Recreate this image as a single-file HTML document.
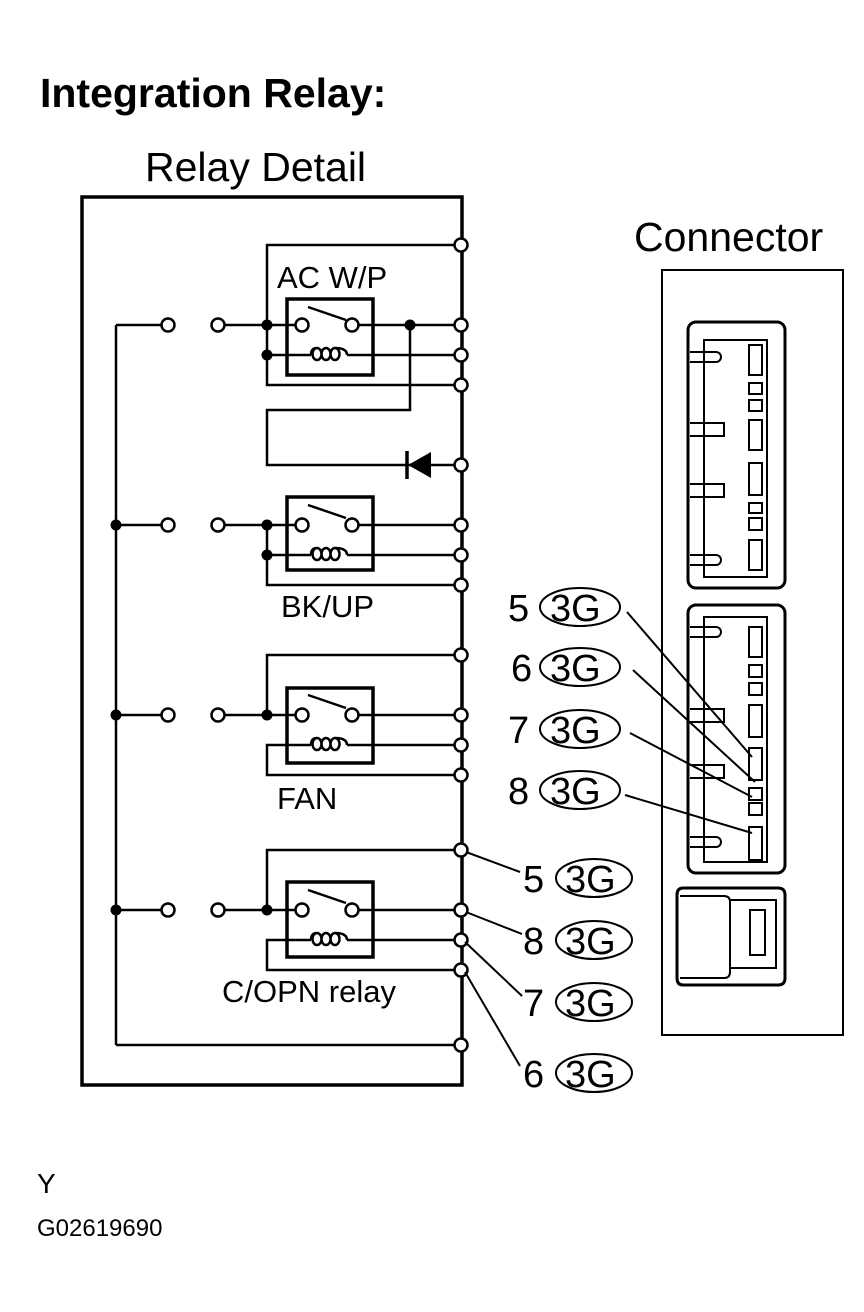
<!DOCTYPE html>
<html><head><meta charset="utf-8"><style>
html,body{margin:0;padding:0;background:#fff}
svg{display:block}
text{font-family:"Liberation Sans",Arial,sans-serif;fill:#000}
</style></head><body>
<svg width="864" height="1312" viewBox="0 0 864 1312" xmlns="http://www.w3.org/2000/svg">
<text x="40" y="107" font-size="41" font-weight="bold">Integration Relay:</text>
<text x="145" y="181" font-size="41">Relay Detail</text>
<text x="634" y="251" font-size="41">Connector</text>
<g stroke="#000" fill="none" stroke-width="2.5">
<rect x="82" y="197" width="380" height="888" stroke-width="3.5"/>
<line x1="116" y1="325" x2="116" y2="1045"/>
<line x1="116" y1="1045" x2="461" y2="1045"/>
<!-- AC W/P -->
<path d="M461 245H267V385H461"/>
<rect x="287" y="299" width="86" height="76" stroke-width="3.5"/>
<line x1="116" y1="325" x2="162" y2="325"/>
<line x1="224" y1="325" x2="296" y2="325"/>
<line x1="358" y1="325" x2="461" y2="325"/>
<line x1="308" y1="307" x2="346" y2="320"/>
<line x1="267" y1="355" x2="311" y2="355"/>
<line x1="347" y1="355" x2="461" y2="355"/>
<path d="M410 325V410H267V465H461"/>
<!-- BK/UP -->
<rect x="287" y="497" width="86" height="73" stroke-width="3.5"/>
<line x1="116" y1="525" x2="162" y2="525"/>
<line x1="224" y1="525" x2="296" y2="525"/>
<line x1="358" y1="525" x2="461" y2="525"/>
<line x1="308" y1="505" x2="346" y2="518"/>
<path d="M267 525V585H461"/>
<line x1="267" y1="555" x2="311" y2="555"/>
<line x1="347" y1="555" x2="461" y2="555"/>
<!-- FAN -->
<rect x="287" y="688" width="86" height="75" stroke-width="3.5"/>
<path d="M461 655H267V715"/>
<line x1="116" y1="715" x2="162" y2="715"/>
<line x1="224" y1="715" x2="296" y2="715"/>
<line x1="358" y1="715" x2="461" y2="715"/>
<line x1="308" y1="695" x2="346" y2="708"/>
<path d="M311 745H267V775H461"/>
<line x1="347" y1="745" x2="461" y2="745"/>
<!-- C/OPN -->
<rect x="287" y="882" width="86" height="75" stroke-width="3.5"/>
<path d="M461 850H267V910"/>
<line x1="116" y1="910" x2="162" y2="910"/>
<line x1="224" y1="910" x2="296" y2="910"/>
<line x1="358" y1="910" x2="461" y2="910"/>
<line x1="308" y1="890" x2="346" y2="903"/>
<path d="M311 940H267V970H461"/>
<line x1="347" y1="940" x2="461" y2="940"/>
</g>
<g stroke="#000" fill="none" stroke-width="2.5">
<path id="c1" d="M311 355 q0 -7 6 -7 m0 0 a4.5 6 0 1 1 0 12 a4.5 6 0 1 1 0 -12 m9 0 a4.5 6 0 1 1 0 12 a4.5 6 0 1 1 0 -12 m9 0 a4.5 6 0 1 1 0 12 a4.5 6 0 1 1 0 -12 q12 0 12 7"/>
<path d="M311 555 q0 -7 6 -7 m0 0 a4.5 6 0 1 1 0 12 a4.5 6 0 1 1 0 -12 m9 0 a4.5 6 0 1 1 0 12 a4.5 6 0 1 1 0 -12 m9 0 a4.5 6 0 1 1 0 12 a4.5 6 0 1 1 0 -12 q12 0 12 7"/>
<path d="M311 745 q0 -7 6 -7 m0 0 a4.5 6 0 1 1 0 12 a4.5 6 0 1 1 0 -12 m9 0 a4.5 6 0 1 1 0 12 a4.5 6 0 1 1 0 -12 m9 0 a4.5 6 0 1 1 0 12 a4.5 6 0 1 1 0 -12 q12 0 12 7"/>
<path d="M311 940 q0 -7 6 -7 m0 0 a4.5 6 0 1 1 0 12 a4.5 6 0 1 1 0 -12 m9 0 a4.5 6 0 1 1 0 12 a4.5 6 0 1 1 0 -12 m9 0 a4.5 6 0 1 1 0 12 a4.5 6 0 1 1 0 -12 q12 0 12 7"/>
</g>
<polygon points="408,465 431,452 431,478" fill="#000"/>
<line x1="407" y1="451" x2="407" y2="479" stroke="#000" stroke-width="3.5"/>
<g fill="#000">
<circle cx="267" cy="325" r="5.5"/><circle cx="267" cy="355" r="5.5"/><circle cx="410" cy="325" r="5.5"/>
<circle cx="116" cy="525" r="5.5"/><circle cx="267" cy="525" r="5.5"/><circle cx="267" cy="555" r="5.5"/>
<circle cx="116" cy="715" r="5.5"/><circle cx="267" cy="715" r="5.5"/>
<circle cx="116" cy="910" r="5.5"/><circle cx="267" cy="910" r="5.5"/>
</g>
<g fill="#fff" stroke="#000" stroke-width="2.5">
<circle cx="168" cy="325" r="6.5"/><circle cx="218" cy="325" r="6.5"/><circle cx="302" cy="325" r="6.5"/><circle cx="352" cy="325" r="6.5"/>
<circle cx="168" cy="525" r="6.5"/><circle cx="218" cy="525" r="6.5"/><circle cx="302" cy="525" r="6.5"/><circle cx="352" cy="525" r="6.5"/>
<circle cx="168" cy="715" r="6.5"/><circle cx="218" cy="715" r="6.5"/><circle cx="302" cy="715" r="6.5"/><circle cx="352" cy="715" r="6.5"/>
<circle cx="168" cy="910" r="6.5"/><circle cx="218" cy="910" r="6.5"/><circle cx="302" cy="910" r="6.5"/><circle cx="352" cy="910" r="6.5"/>
<circle cx="461" cy="245" r="6.5"/><circle cx="461" cy="325" r="6.5"/><circle cx="461" cy="355" r="6.5"/><circle cx="461" cy="385" r="6.5"/>
<circle cx="461" cy="465" r="6.5"/><circle cx="461" cy="525" r="6.5"/><circle cx="461" cy="555" r="6.5"/><circle cx="461" cy="585" r="6.5"/>
<circle cx="461" cy="655" r="6.5"/><circle cx="461" cy="715" r="6.5"/><circle cx="461" cy="745" r="6.5"/><circle cx="461" cy="775" r="6.5"/>
<circle cx="461" cy="850" r="6.5"/><circle cx="461" cy="910" r="6.5"/><circle cx="461" cy="940" r="6.5"/><circle cx="461" cy="970" r="6.5"/>
<circle cx="461" cy="1045" r="6.5"/>
</g>
<g font-size="31">
<text x="277" y="288">AC W/P</text>
<text x="281" y="617">BK/UP</text>
<text x="277" y="809">FAN</text>
<text x="222" y="1002">C/OPN relay</text>
</g>
<g stroke="#000" fill="none" stroke-width="2">
<rect x="662" y="270" width="181" height="765"/>
<rect x="688" y="322" width="97" height="266" rx="8" stroke-width="3"/>
<rect x="704" y="340" width="63" height="237"/>
<rect x="749" y="345" width="13" height="30"/><rect x="749" y="383" width="13" height="11"/><rect x="749" y="400" width="13" height="11"/>
<rect x="749" y="420" width="13" height="30"/><rect x="749" y="463" width="13" height="32"/><rect x="749" y="503" width="13" height="10"/>
<rect x="749" y="518" width="13" height="12"/><rect x="749" y="540" width="13" height="30"/>
<path d="M690 352H716a5 5 0 0 1 0 10H690"/><path d="M690 423H724V436H690"/><path d="M690 484H724V497H690"/><path d="M690 555H716a5 5 0 0 1 0 10H690"/>
<rect x="688" y="605" width="97" height="268" rx="8" stroke-width="3"/>
<rect x="704" y="617" width="63" height="245"/>
<rect x="749" y="627" width="13" height="30"/><rect x="749" y="665" width="13" height="12"/><rect x="749" y="683" width="13" height="12"/>
<rect x="749" y="705" width="13" height="32"/><rect x="749" y="748" width="13" height="32"/><rect x="749" y="788" width="13" height="12"/>
<rect x="749" y="803" width="13" height="12"/><rect x="749" y="827" width="13" height="33"/>
<path d="M690 627H716a5 5 0 0 1 0 10H690"/><path d="M690 709H724V722H690"/><path d="M690 765H724V778H690"/><path d="M690 837H716a5 5 0 0 1 0 10H690"/>
<path d="M683 888H778q7 0 7 7V978q0 7-7 7H683q-6 0-6-7V895q0-7 6-7z" stroke-width="3"/>
<path d="M680 896H724q6 0 6 6V972q0 6-6 6H680"/>
<path d="M730 900H776V968H730"/>
<rect x="750" y="910" width="15" height="45"/>
<line x1="627" y1="612" x2="752" y2="757"/>
<line x1="633" y1="670" x2="755" y2="782"/>
<line x1="630" y1="733" x2="752" y2="797"/>
<line x1="625" y1="795" x2="752" y2="833"/>
<line x1="466" y1="852" x2="520" y2="872"/>
<line x1="466" y1="912" x2="522" y2="934"/>
<line x1="465" y1="942" x2="522" y2="996"/>
<line x1="465" y1="972" x2="520" y2="1066"/>
<ellipse cx="580" cy="607" rx="40" ry="19"/>
<ellipse cx="580" cy="667" rx="40" ry="19"/>
<ellipse cx="580" cy="729" rx="40" ry="19"/>
<ellipse cx="580" cy="790" rx="40" ry="19"/>
<ellipse cx="594" cy="878" rx="38" ry="19"/>
<ellipse cx="594" cy="940" rx="38" ry="19"/>
<ellipse cx="594" cy="1002" rx="38" ry="19"/>
<ellipse cx="594" cy="1073" rx="38" ry="19"/>
</g>
<g font-size="38">
<text x="508" y="621">5</text><text x="550" y="621">3G</text>
<text x="511" y="681">6</text><text x="550" y="681">3G</text>
<text x="508" y="743">7</text><text x="550" y="743">3G</text>
<text x="508" y="804">8</text><text x="550" y="804">3G</text>
<text x="523" y="892">5</text><text x="565" y="892">3G</text>
<text x="523" y="954">8</text><text x="565" y="954">3G</text>
<text x="523" y="1016">7</text><text x="565" y="1016">3G</text>
<text x="523" y="1087">6</text><text x="565" y="1087">3G</text>
</g>
<text x="37" y="1193" font-size="28">Y</text>
<text x="37" y="1236" font-size="24">G02619690</text>
</svg>
</body></html>
